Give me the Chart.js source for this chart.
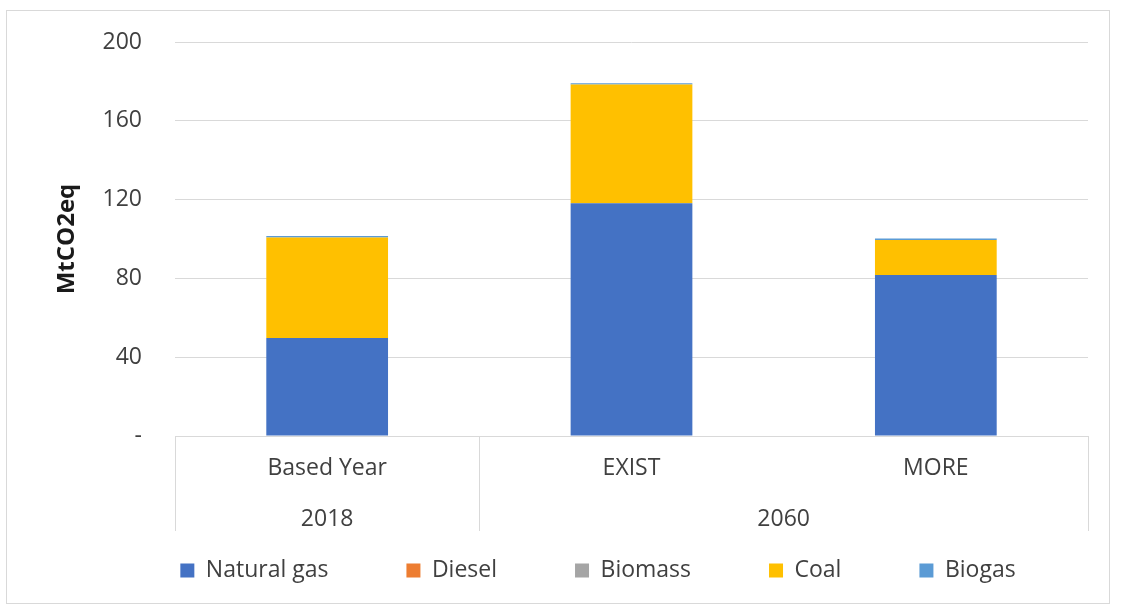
<!DOCTYPE html>
<html>
<head>
<meta charset="utf-8">
<script src="https://cdn.jsdelivr.net/npm/chart.js@4.4.0/dist/chart.umd.min.js"></script>
<style>
    html, body { margin: 0; padding: 0; background: #fff; }
    #frame { position: absolute; left: 6px; top: 10px; width: 1102px; height: 592px; border: 1px solid #d9d9d9; }
    canvas { display: block; }
</style>
</head>
<body>
<div id="frame"><canvas id="emissionsChart" width="1102" height="592"></canvas></div>
<script>
const categories = ['Based Year', 'EXIST', 'MORE'];
const groupLabels = ['2018', '2060'];
const groupFirst = [0, 1];
const groupLast = [0, 2];
const yTicks = [0, 40, 80, 120, 160, 200];

const naturalGas = [49.8, 118.2, 81.7];
const diesel = [0, 0, 0];
const biomass = [0, 0, 0];
const coal = [51, 60.2, 17.8];
const biogas = [0.7, 0.7, 0.7];

Chart.defaults.font.family = '"Open Sans", sans-serif';
Chart.defaults.font.size = 23;
Chart.defaults.color = '#404040';

// draws the group separators under the axis and moves the legend into place
const groupDividers = {
    id: 'groupDividers',
    afterLayout(chart) {
        const legend = chart.legend;
        const dx = 591 - (legend.left + legend.right) / 2;
        legend.left += dx;
        legend.right += dx;
        legend.top = legend.bottom - 44 - legend.options.labels.padding;
        legend.height = legend.bottom - legend.top;
    },
    afterDraw(chart) {
        const x = chart.scales.x;
        const x2 = chart.scales.x2;
        const ctx = chart.ctx;
        const half = (x.getPixelForValue(1) - x.getPixelForValue(0)) / 2;
        const edges = [x.getPixelForValue(0) - half];
        groupLast.forEach(i => edges.push(x.getPixelForValue(i) + half));
        ctx.save();
        ctx.strokeStyle = '#d9d9d9';
        ctx.lineWidth = 1;
        edges.forEach(px => {
            const p = Math.round(px) + 0.5;
            ctx.beginPath();
            ctx.moveTo(p, x.top);
            ctx.lineTo(p, x2.bottom);
            ctx.stroke();
        });
        ctx.restore();
    }
};

const ctx = document.getElementById('emissionsChart').getContext('2d');
new Chart(ctx, {
    type: 'bar',
    data: {
        labels: categories,
        datasets: [
            { label: 'Natural gas', data: naturalGas, backgroundColor: '#4472C4' },
            { label: 'Diesel', data: diesel, backgroundColor: '#ED7D31' },
            { label: 'Biomass', data: biomass, backgroundColor: '#A5A5A5' },
            { label: 'Coal', data: coal, backgroundColor: '#FFC000' },
            { label: 'Biogas', data: biogas, backgroundColor: '#5B9BD5' }
        ]
    },
    options: {
        responsive: false,
        animation: false,
        datasets: { bar: { categoryPercentage: 1, barPercentage: 0.4, borderWidth: 0 } },
        layout: { padding: { left: 40, right: 21, top: 31, bottom: 0 } },
        plugins: {
            legend: {
                position: 'bottom',
                maxHeight: 72,
                labels: { boxWidth: 14, boxHeight: 14, padding: 78, color: '#404040' }
            },
            tooltip: { enabled: false }
        },
        scales: {
            x: {
                stacked: true,
                weight: 0,
                grid: { display: false },
                border: { display: true, color: '#d9d9d9' },
                ticks: { padding: 11, color: '#404040' },
                afterFit: scale => { scale.height = 45; }
            },
            x2: {
                type: 'linear',
                position: 'bottom',
                weight: 1,
                offset: false,
                min: -0.5,
                max: 2.5,
                grid: { display: false },
                border: { display: false },
                afterBuildTicks: scale => {
                    scale.ticks = groupLabels.map((g, i) => ({ value: (groupFirst[i] + groupLast[i]) / 2 }));
                },
                ticks: { padding: 17, color: '#404040', callback: (v, i) => groupLabels[i] },
                afterFit: scale => { scale.height = 50; }
            },
            y: {
                stacked: true,
                min: 0,
                max: 200,
                afterBuildTicks: scale => {
                    scale.ticks = yTicks.map(v => ({ value: v }));
                },
                grid: { color: '#d9d9d9', drawTicks: false },
                border: { display: false },
                ticks: { padding: 33, color: '#404040', callback: v => v === 0 ? '-' : v },
                title: {
                    display: true,
                    text: 'MtCO2eq',
                    color: '#1a1a1a',
                    font: { weight: 'bold', size: 24 },
                    padding: { top: 6, bottom: 0 }
                },
                afterFit: scale => {
                    scale.width = 128;
                    scale.paddingTop = 14;
                    scale.paddingBottom = 14;
                }
            }
        }
    },
    plugins: [groupDividers]
});
</script>
</body>
</html>
